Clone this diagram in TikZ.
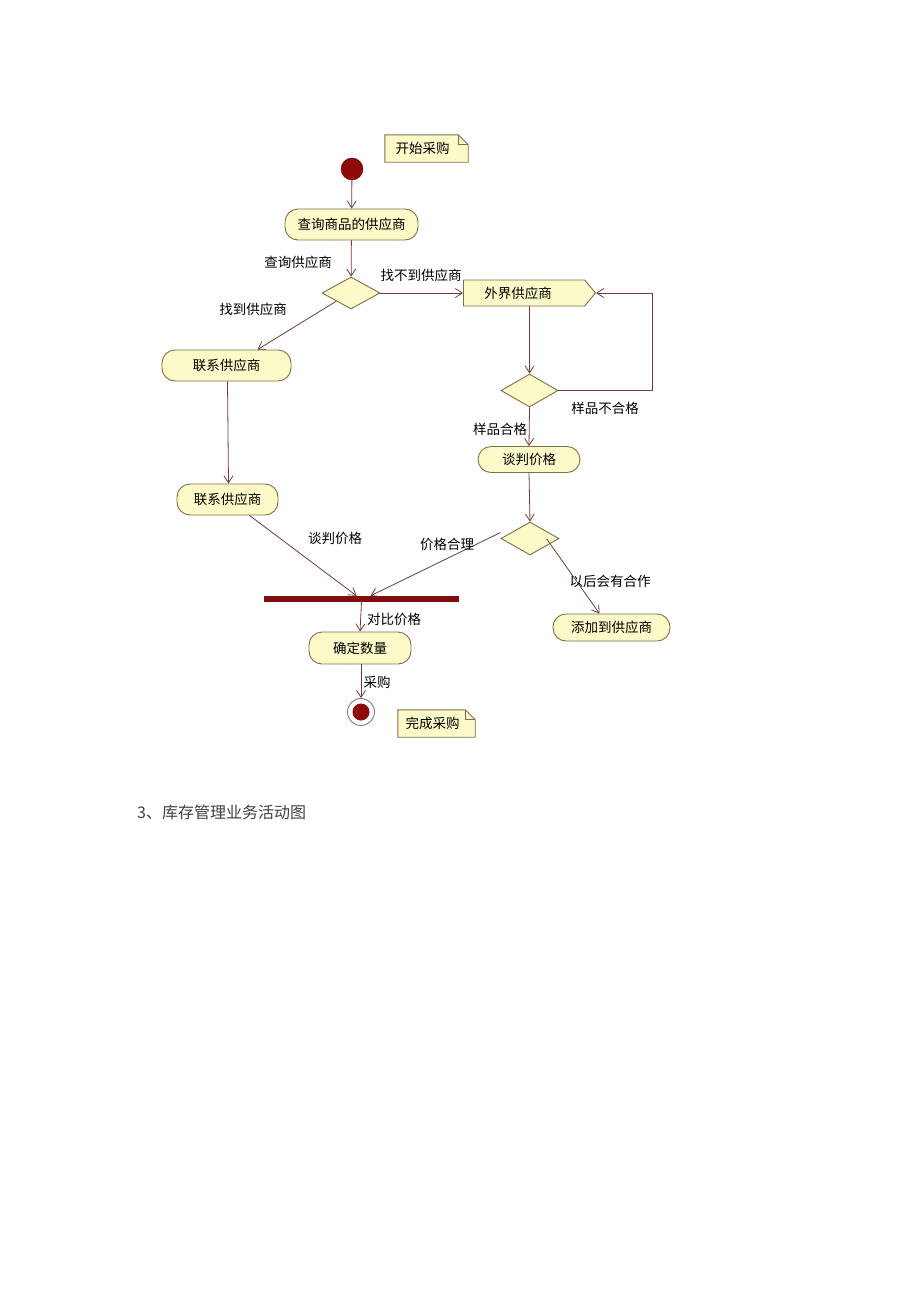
\documentclass[tikz,border=0pt]{standalone}
\usepackage{fontspec}
\setmainfont{Noto Sans CJK SC}
\newfontfamily\capfont{Noto Sans CJK SC}
\usetikzlibrary{arrows.meta,shapes.geometric,shapes.symbols}
\definecolor{actfill}{RGB}{252,250,200}
\definecolor{actdraw}{RGB}{130,110,70}
\definecolor{edgec}{RGB}{115,60,60}
\definecolor{darkred}{RGB}{140,10,10}
\definecolor{barc}{RGB}{125,15,15}
\tikzset{
  every node/.style={font=\fontsize{13.5}{15}\selectfont},
  act/.style={draw=actdraw, fill=actfill, line width=0.9pt, rounded corners=13pt, minimum height=31pt, inner sep=0pt},
  dec/.style={diamond, draw=actdraw, fill=actfill, line width=0.9pt, minimum width=58pt, minimum height=32pt, inner sep=0pt},
  lbl/.style={inner sep=0pt},
  flow/.style={draw=edgec, line width=0.8pt, -{Straight Barb[length=7pt,width=9pt]}},
  plain/.style={draw=edgec, line width=0.8pt},
  notebg/.style={draw=none, minimum height=27pt, inner sep=0pt},
  noteline/.style={draw=actdraw, fill=actfill, line width=0.9pt},
}
\begin{document}
\begin{tikzpicture}[x=1pt,y=-1pt]
\useasboundingbox (0,0) rectangle (920,1302);
\fill[white] (0,0) rectangle (920,1302);

% notes
\node[notebg, minimum width=83pt] (n1) at (426.5,148.5) {};
\draw[noteline] (n1.south west) -- (n1.north west) -- ([xshift=-10pt]n1.north east) -- ([yshift=-10pt]n1.north east) -- (n1.south east) -- cycle;
\draw[noteline, fill=none] ([xshift=-10pt]n1.north east) -- ([xshift=-10pt,yshift=-10pt]n1.north east) -- ([yshift=-10pt]n1.north east);
\node[lbl] (n1t) at ([xshift=-4pt]n1.center) {开始采购};

\node[notebg, minimum width=77pt] (n2) at (436.5,723.5) {};
\draw[noteline] (n2.south west) -- (n2.north west) -- ([xshift=-10pt]n2.north east) -- ([yshift=-10pt]n2.north east) -- (n2.south east) -- cycle;
\draw[noteline, fill=none] ([xshift=-10pt]n2.north east) -- ([xshift=-10pt,yshift=-10pt]n2.north east) -- ([yshift=-10pt]n2.north east);
\node[lbl] (n2t) at ([xshift=-4pt]n2.center) {完成采购};

% start / end
\node[circle, fill=darkred, draw=darkred!70!black, minimum size=22pt, inner sep=0pt] (start) at (352,169) {};
\node[circle, fill=white, draw=gray, line width=0.9pt, minimum size=27pt, inner sep=0pt] (endo) at (361,712) {};
\node[circle, fill=darkred, minimum size=17pt, inner sep=0pt] (endi) at (361,712) {};

% activities
\node[act, minimum width=133pt] (q1) at (351.5,224.5) {查询商品的供应商};
\node[act, minimum width=129pt] (c1) at (226.5,365.5) {联系供应商};
\node[act, minimum width=101pt] (c2) at (227.5,499.5) {联系供应商};
\node[act, minimum width=102pt, minimum height=26pt] (t1) at (529,459.5) {谈判价格};
\node[act, minimum width=102pt, minimum height=32pt] (fix) at (360,648) {确定数量};
\node[act, minimum width=117pt, minimum height=27pt] (add) at (611.5,627.5) {添加到供应商};
\node[signal, signal to=east, signal pointer angle=100, draw=actdraw, fill=actfill, line width=0.9pt, minimum width=132pt, minimum height=26pt, inner sep=0pt] (ext) at (524,293) {\hspace*{-12pt}外界供应商};

% decisions
\node[dec] (d1) at (351,293) {};
\node[dec, minimum width=57pt, minimum height=33pt] (d2) at (529.5,390.5) {};
\node[dec, minimum width=58pt, minimum height=33pt] (d3) at (530,538.5) {};

% bar
\node[fill=barc, minimum width=195pt, minimum height=6pt, inner sep=0pt] (bar) at (361.5,599) {};

% connectors
\draw[flow] (start) -- (q1);
\draw[flow] (q1) -- (d1);
\draw[flow] (d1.east) -- (ext.west);
\draw[flow] (d1.south west) -- ([xshift=31pt]c1.north);
\draw[flow] ([xshift=1pt]c1.south) -- ([xshift=1pt]c2.north);
\draw[flow] ([xshift=22pt]c2.south) -- ([xshift=-5pt]bar.north);
\draw[flow] ([yshift=6pt]d3.west) -- ([xshift=9pt]bar.north);
\draw[flow] (bar.south) -- (fix.north);
\draw[flow] ([xshift=1pt]fix.south) -- (endo.north);
\draw[flow] (d2.north |- ext.south) -- (d2.north);
\coordinate (lp1) at (652,390.5);
\coordinate (lp2) at (652,293);
\draw[flow] (d2.east) -- (lp1) -- (lp2) -- (ext.east);
\draw[flow] (d2.south) -- (t1.north);
\draw[flow] (t1.south) -- (d3.north);
\draw[flow] ([xshift=2pt,yshift=8pt]d3.south east) -- ([xshift=-12pt]add.north);

% labels
\node[lbl] (l1) at (298,262) {查询供应商};
\node[lbl] (l2) at (421,275) {找不到供应商};
\node[lbl] (l3) at (253,309) {找到供应商};
\node[lbl] (l4) at (605,408) {样品不合格};
\node[lbl] (l5) at (500,429) {样品合格};
\node[lbl] (l6) at (335,538) {谈判价格};
\node[lbl] (l7) at (447,544) {价格合理};
\node[lbl] (l8) at (610,581) {以后会有合作};
\node[lbl] (l9) at (394,619) {对比价格};
\node[lbl] (l10) at (377,682) {采购};

% caption
\node[lbl, anchor=west, font=\capfont\fontsize{16}{18}\selectfont, text=black!75] (cap) at (137,812) {3、库存管理业务活动图};
\end{tikzpicture}
\end{document}
